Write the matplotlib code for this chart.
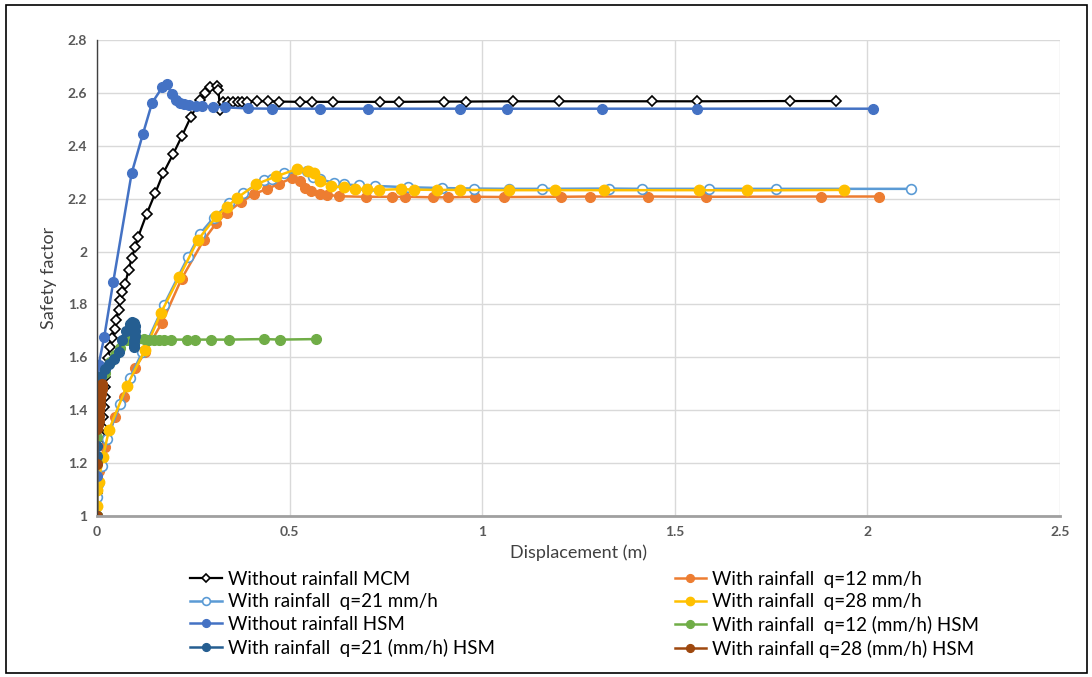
import matplotlib
matplotlib.use("Agg")
from matplotlib import pyplot
from matplotlib.patches import Rectangle
from matplotlib.ticker import FuncFormatter, MultipleLocator

pyplot.rcParams['font.family'] = ['Lato', 'DejaVu Sans']

# --- data ---
mcm_x = [0, 0, 0, 0, 0.002, 0.004, 0.008, 0.012, 0.016, 0.018, 0.021, 0.021, 0.021, 0.028, 0.034,
         0.038, 0.047, 0.049, 0.056, 0.060, 0.066, 0.073, 0.082, 0.090, 0.099, 0.107, 0.129, 0.151,
         0.172, 0.198, 0.220, 0.244, 0.268, 0.281, 0.294, 0.311, 0.315, 0.320, 0.328, 0.341, 0.354,
         0.365, 0.376, 0.389, 0.415, 0.443, 0.472, 0.528, 0.558, 0.613, 0.734, 0.785, 0.900, 0.959,
         1.079, 1.199, 1.440, 1.558, 1.800, 1.919]
mcm_y = [1.0, 1.034, 1.087, 1.163, 1.224, 1.276, 1.307, 1.337, 1.375, 1.413, 1.45, 1.488, 1.526, 1.598,
         1.64, 1.673, 1.707, 1.741, 1.779, 1.817, 1.848, 1.877, 1.93, 1.975, 2.016, 2.056, 2.142, 2.22,
         2.296, 2.369, 2.435, 2.51, 2.573, 2.598, 2.621, 2.626, 2.611, 2.535, 2.567, 2.567, 2.567,
         2.567, 2.567, 2.567, 2.568, 2.568, 2.567, 2.566, 2.566, 2.566, 2.566, 2.566, 2.567, 2.567,
         2.568, 2.568, 2.568, 2.568, 2.569, 2.569]

q12_x = [0, 0.001, 0.005, 0.012, 0.021, 0.047, 0.071, 0.099, 0.125, 0.168, 0.220, 0.277, 0.310, 0.337,
         0.374, 0.408, 0.441, 0.472, 0.506, 0.528, 0.540, 0.556, 0.578, 0.597, 0.628, 0.698, 0.767,
         0.800, 0.873, 0.910, 0.982, 1.056, 1.204, 1.280, 1.430, 1.580, 1.880, 2.030]
q12_y = [1.0, 1.1, 1.17, 1.22, 1.262, 1.376, 1.451, 1.559, 1.62, 1.729, 1.898, 2.043, 2.108, 2.146,
         2.188, 2.217, 2.237, 2.255, 2.278, 2.267, 2.242, 2.229, 2.219, 2.215, 2.209, 2.207, 2.207,
         2.207, 2.205, 2.205, 2.207, 2.206, 2.207, 2.208, 2.208, 2.207, 2.208, 2.208]

q21_x = [0, 0.001, 0.003, 0.013, 0.025, 0.060, 0.085, 0.118, 0.174, 0.236, 0.268, 0.303, 0.343, 0.378,
         0.433, 0.454, 0.486, 0.545, 0.562, 0.578, 0.616, 0.642, 0.680, 0.723, 0.808, 0.896, 0.980,
         1.070, 1.156, 1.330, 1.415, 1.588, 1.762, 2.114]
q21_y = [1.0, 1.07, 1.12, 1.19, 1.29, 1.423, 1.521, 1.62, 1.798, 1.978, 2.068, 2.128, 2.182, 2.22,
         2.269, 2.276, 2.296, 2.305, 2.28, 2.273, 2.26, 2.254, 2.25, 2.248, 2.243, 2.24, 2.238,
         2.237, 2.237, 2.238, 2.237, 2.237, 2.237, 2.237]

q28_x = [0, 0, 0.001, 0.004, 0.016, 0.031, 0.077, 0.125, 0.166, 0.214, 0.262, 0.310, 0.337, 0.363,
         0.414, 0.465, 0.519, 0.547, 0.564, 0.578, 0.607, 0.640, 0.670, 0.700, 0.731, 0.790, 0.822,
         0.882, 0.942, 1.069, 1.190, 1.315, 1.564, 1.687, 1.940]
q28_y = [1.0, 1.036, 1.099, 1.13, 1.225, 1.325, 1.49, 1.629, 1.768, 1.905, 2.044, 2.133, 2.168, 2.202,
         2.255, 2.284, 2.312, 2.306, 2.296, 2.268, 2.246, 2.244, 2.238, 2.236, 2.233, 2.236, 2.234,
         2.233, 2.233, 2.232, 2.232, 2.232, 2.232, 2.231, 2.233]

hsm_x = [0, 0, 0, 0, 0, 0.001, 0.002, 0.004, 0.019, 0.042, 0.090, 0.119, 0.143, 0.170, 0.182, 0.194,
         0.205, 0.216, 0.226, 0.240, 0.258, 0.272, 0.302, 0.333, 0.393, 0.455, 0.579, 0.703, 0.942,
         1.065, 1.310, 1.557, 2.014]
hsm_y = [1.0, 1.15, 1.36, 1.40, 1.44, 1.48, 1.52, 1.57, 1.678, 1.883, 2.296, 2.443, 2.562, 2.622,
         2.632, 2.595, 2.574, 2.562, 2.557, 2.553, 2.551, 2.549, 2.548, 2.545, 2.541, 2.54, 2.54,
         2.54, 2.54, 2.54, 2.54, 2.54, 2.54]

q12h_x = [0, 0, 0.001, 0.002, 0.004, 0.010, 0.020, 0.034, 0.048, 0.060, 0.077, 0.090, 0.104, 0.121,
          0.134, 0.147, 0.160, 0.173, 0.192, 0.233, 0.255, 0.296, 0.342, 0.433, 0.476, 0.569]
q12h_y = [1.0, 1.2, 1.3, 1.38, 1.45, 1.5, 1.54, 1.584, 1.61, 1.635, 1.666, 1.668, 1.668, 1.668,
          1.667, 1.667, 1.667, 1.667, 1.667, 1.667, 1.667, 1.667, 1.667, 1.669, 1.667, 1.669]

q21h_x = [0, 0, 0, 0.001, 0.002, 0.004, 0.010, 0.020, 0.030, 0.043, 0.056, 0.065, 0.075, 0.085,
          0.092, 0.097, 0.100, 0.100, 0.098, 0.096, 0.096, 0.097]
q21h_y = [1.0, 1.227, 1.265, 1.36, 1.42, 1.5, 1.53, 1.555, 1.575, 1.595, 1.62, 1.665, 1.70, 1.725,
          1.735, 1.73, 1.72, 1.70, 1.68, 1.66, 1.645, 1.64]

q28h_x = [0, 0, 0.001, 0.002, 0.004, 0.006, 0.005, 0.007, 0.009, 0.011, 0.013, 0.014, 0.012, 0.010,
          0.008, 0.006, 0.004, 0.003]
q28h_y = [1.0, 1.195, 1.33, 1.345, 1.36, 1.38, 1.40, 1.42, 1.44, 1.46, 1.48, 1.50, 1.49, 1.47,
          1.45, 1.43, 1.40, 1.38]

labels = ["Without rainfall MCM", "With rainfall  q=12 mm/h", "With rainfall  q=21 mm/h",
          "With rainfall  q=28 mm/h", "Without rainfall HSM", "With rainfall  q=12 (mm/h) HSM",
          "With rainfall  q=21 (mm/h) HSM", "With rainfall q=28 (mm/h) HSM"]

fig = pyplot.figure(figsize=(10.92, 6.77), dpi=100)
ax = fig.add_axes([0.0888, 0.2378, 0.8819, 0.7032])

lines = []
l, = ax.plot(mcm_x, mcm_y, color='black', lw=1.6, marker='D', ms=5.5, mfc='white', mec='black', mew=1.2)
lines.append(l)
l, = ax.plot(q12_x, q12_y, color='#ED7D31', lw=1.8, marker='o', ms=7, mec='#ED7D31')
lines.append(l)
l, = ax.plot(q21_x, q21_y, color='#5B9BD5', lw=1.8, marker='o', ms=7, mfc='white', mec='#5B9BD5', mew=1.2)
lines.append(l)
l, = ax.plot(q28_x, q28_y, color='#FFC000', lw=1.8, marker='o', ms=7.5, mec='#FFC000')
lines.append(l)
l, = ax.plot(hsm_x, hsm_y, color='#4472C4', lw=1.8, marker='o', ms=7, mec='#4472C4')
lines.append(l)
l, = ax.plot(q12h_x, q12h_y, color='#70AD47', lw=1.8, marker='o', ms=7, mec='#70AD47')
lines.append(l)
l, = ax.plot(q21h_x, q21h_y, color='#255E91', lw=1.8, marker='o', ms=7, mec='#255E91')
lines.append(l)
l, = ax.plot(q28h_x, q28h_y, color='#9E480E', lw=1.8, marker='o', ms=7, mec='#9E480E')
lines.append(l)

ax.set_xlim(0, 2.5)
ax.set_ylim(1, 2.8)
ax.xaxis.set_major_locator(MultipleLocator(0.5))
ax.yaxis.set_major_locator(MultipleLocator(0.2))
ax.xaxis.set_major_formatter(FuncFormatter(lambda v, p: "%g" % round(v, 2)))
ax.yaxis.set_major_formatter(FuncFormatter(lambda v, p: "%g" % round(v, 2)))
ax.grid(True, color='#D9D9D9', lw=1)
ax.set_axisbelow(True)
ax.tick_params(length=0, labelsize=10, labelcolor='#595959', pad=7)
for s in ['top', 'right']:
    ax.spines[s].set_visible(False)
ax.spines['left'].set_color('#404040')
ax.spines['left'].set_linewidth(1)
ax.spines['bottom'].set_color('#A0A0A0')
ax.spines['bottom'].set_linewidth(2)
for lbl in ax.get_xticklabels() + ax.get_yticklabels():
    lbl.set_fontweight('bold')

ax.set_xlabel("Displacement (m)", fontsize=13, color='#404040', labelpad=5)
ax.set_ylabel("Safety factor", fontsize=13, color='#404040', labelpad=8)

order = [0, 2, 4, 6, 1, 3, 5, 7]
fig.legend([lines[i] for i in order], [labels[i] for i in order], ncol=2,
           loc='upper left', bbox_to_anchor=(0.174, 0.157), frameon=False,
           fontsize=13.5, handlelength=1.7, handletextpad=0.3, columnspacing=9.6,
           labelspacing=0.3, borderaxespad=0, borderpad=0, markerscale=0.8)

fig.patches.append(Rectangle((0.0055, 0.006), 0.99, 0.9866, transform=fig.transFigure,
                             fill=False, edgecolor='black', lw=1.2))

pyplot.savefig("out.png", dpi=100)
